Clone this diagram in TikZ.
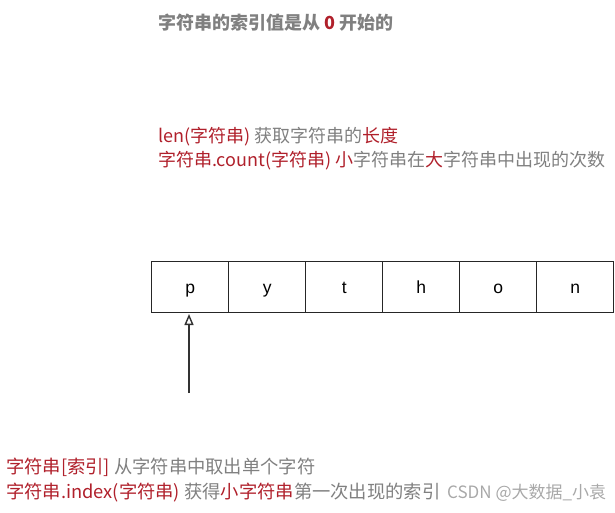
\documentclass[tikz,border=0pt]{standalone}
\usepackage{fontspec}
\setmainfont{Noto Sans CJK SC}
\newfontfamily\boxfont{Liberation Sans}
\usetikzlibrary{arrows.meta}
\definecolor{myred}{HTML}{B0202B}
\definecolor{mygray}{HTML}{808080}
\definecolor{wmgray}{HTML}{A8A8A8}
\begin{document}
\begin{tikzpicture}[x=1pt,y=-1pt,
  txt/.style={anchor=base west,inner sep=0pt,text=mygray,font=\fontsize{18}{20}\selectfont},
  cell/.style={draw=black!85,line width=1.4pt,minimum width=77pt,minimum height=51pt,inner sep=0pt,text height=12pt,text depth=0pt,anchor=north west,font=\boxfont\fontsize{17.5}{20}\selectfont},
  arr/.style={draw=black!80,line width=1.4pt,-{Triangle[open,length=11pt,width=9pt,line width=1.4pt]}}]
\useasboundingbox (0,0) rectangle (615,512);
\node[txt,font=\bfseries\fontsize{18}{20}\selectfont] (title) at (158,29) {字符串的索引值是从 \textcolor{myred}{0} 开始的};
\node[txt] (len) at (158,142) {\textcolor{myred}{len(字符串)} 获取字符串的\textcolor{myred}{长度}};
\node[txt] (count) at (158,166.5) {\textcolor{myred}{字符串.count(字符串)} \textcolor{myred}{小}字符串在\textcolor{myred}{大}字符串中出现的次数};
\node[cell] (c1) at (151,261) {p};
\node[cell] (c2) at (228,261) {y};
\node[cell] (c3) at (305,261) {t};
\node[cell] (c4) at (382,261) {h};
\node[cell] (c5) at (459,261) {o};
\node[cell] (c6) at (536,261) {n};
\coordinate (tail) at (189,393);
\coordinate (tip) at (189,314);
\draw[arr] (tail) -- (tip);
\node[txt,font=\fontsize{18.3}{20}\selectfont] (idx) at (6,473) {\textcolor{myred}{字符串[索引]} 从字符串中取出单个字符};
\node[txt,font=\fontsize{18.3}{20}\selectfont] (index) at (6,498) {\textcolor{myred}{字符串.index(字符串)} 获得\textcolor{myred}{小字符串}第一次出现的索引};
\node[txt,text=wmgray,font=\fontsize{17}{20}\selectfont] (wm) at (447,498) {CSDN @大数据\_小袁};
\end{tikzpicture}
\end{document}
